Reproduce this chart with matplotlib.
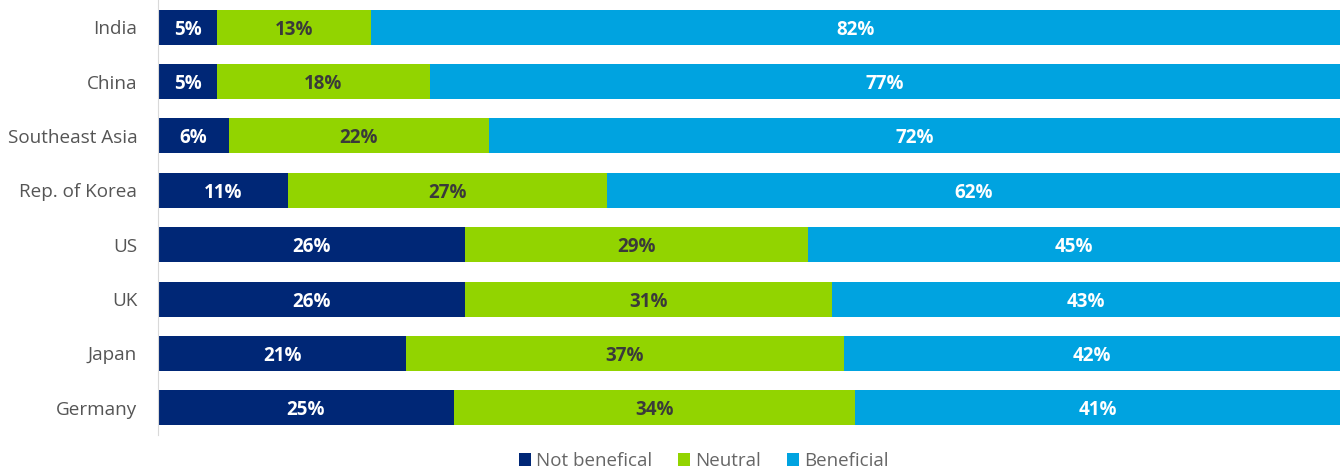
import numpy as np
import matplotlib.pyplot as plt
from matplotlib.patches import Patch

plt.rcParams['font.family'] = ['Open Sans', 'DejaVu Sans']

countries = ['India', 'China', 'Southeast Asia', 'Rep. of Korea', 'US', 'UK', 'Japan', 'Germany']
not_beneficial = [5, 5, 6, 11, 26, 26, 21, 25]
neutral = [13, 18, 22, 27, 29, 31, 37, 34]
beneficial = [82, 77, 72, 62, 45, 43, 42, 41]

series = [
    ('Not benefical', not_beneficial, '#002776', 'white'),
    ('Neutral', neutral, '#92D400', '#3a3a3a'),
    ('Beneficial', beneficial, '#00A3E0', 'white'),
]

fig = plt.figure(figsize=(13.4, 4.72), dpi=100)
ax = fig.add_axes([158 / 1340, 37 / 472, 1 - 158 / 1340, 435 / 472])

y = np.arange(len(countries))
left = np.zeros(len(countries))
for name, vals, color, txt in series:
    vals = np.array(vals, dtype=float)
    ax.barh(y, vals, left=left, height=0.645, color=color, label=name)
    for yi, l, v in zip(y, left, vals):
        ax.text(l + v / 2, yi, f'{int(v)}%', ha='center', va='center_baseline',
                color=txt, fontsize=13.5, fontweight='bold')
    left += vals

ax.set_xlim(0, 100)
ax.set_ylim(len(countries) - 0.5, -0.5)
ax.set_yticks(y)
ax.set_yticklabels(countries, fontsize=13.6, color='#555555', va='center_baseline')
ax.set_xticks([])
ax.tick_params(axis='y', length=0, pad=15)
for s in ['top', 'right', 'bottom']:
    ax.spines[s].set_visible(False)
ax.spines['left'].set_color('#d9d9d9')

handles = [Patch(facecolor=c, label=n) for n, _, c, _ in series]
fig.legend(handles=handles, loc='center', bbox_to_anchor=(0.525, 11 / 472), ncol=3,
           frameon=False, fontsize=13.5, handlelength=0.65, handleheight=0.65,
           handletextpad=0.25, columnspacing=1.4, labelcolor='#666666')

fig.savefig('out.png', dpi=100)
